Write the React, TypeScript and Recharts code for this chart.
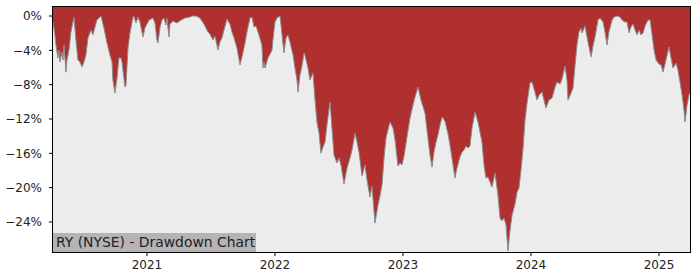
import { AreaChart, Area, XAxis, YAxis, CartesianGrid } from 'recharts';

// decimal years
const years = [
  2020.266, 2020.281, 2020.289, 2020.305, 2020.313, 2020.320, 2020.336, 2020.344, 2020.352, 2020.367,
  2020.375, 2020.391, 2020.406, 2020.430, 2020.445, 2020.461, 2020.477, 2020.492, 2020.508, 2020.523,
  2020.539, 2020.563, 2020.578, 2020.594, 2020.609, 2020.641, 2020.664, 2020.688, 2020.711, 2020.727,
  2020.734, 2020.750, 2020.766, 2020.781, 2020.797, 2020.805, 2020.828, 2020.836, 2020.852, 2020.867,
  2020.891, 2020.898, 2020.914, 2020.930, 2020.945, 2020.969, 2020.984, 2021.016, 2021.047, 2021.063,
  2021.078, 2021.086, 2021.102, 2021.117, 2021.133, 2021.148, 2021.156, 2021.172, 2021.180, 2021.203,
  2021.234, 2021.266, 2021.297, 2021.336, 2021.352, 2021.383, 2021.414, 2021.445, 2021.477, 2021.492,
  2021.516, 2021.531, 2021.555, 2021.570, 2021.586, 2021.602, 2021.625, 2021.648, 2021.664, 2021.680,
  2021.703, 2021.727, 2021.742, 2021.766, 2021.781, 2021.805, 2021.820, 2021.836, 2021.852, 2021.875,
  2021.898, 2021.906, 2021.914, 2021.922, 2021.945, 2021.977, 2021.984, 2022.000, 2022.016, 2022.039,
  2022.047, 2022.070, 2022.086, 2022.102, 2022.117, 2022.141, 2022.156, 2022.172, 2022.180, 2022.195,
  2022.211, 2022.227, 2022.234, 2022.258, 2022.273, 2022.297, 2022.313, 2022.328, 2022.344, 2022.359,
  2022.375, 2022.391, 2022.406, 2022.430, 2022.445, 2022.461, 2022.484, 2022.500, 2022.516, 2022.539,
  2022.563, 2022.586, 2022.602, 2022.625, 2022.641, 2022.656, 2022.680, 2022.703, 2022.719, 2022.742,
  2022.758, 2022.781, 2022.805, 2022.820, 2022.836, 2022.852, 2022.867, 2022.898, 2022.922, 2022.938,
  2022.961, 2022.977, 2022.992, 2023.008, 2023.031, 2023.055, 2023.078, 2023.094, 2023.117, 2023.141,
  2023.172, 2023.195, 2023.211, 2023.227, 2023.242, 2023.258, 2023.273, 2023.289, 2023.305, 2023.328,
  2023.352, 2023.367, 2023.391, 2023.406, 2023.422, 2023.445, 2023.461, 2023.477, 2023.492, 2023.508,
  2023.523, 2023.539, 2023.563, 2023.586, 2023.617, 2023.633, 2023.648, 2023.664, 2023.680, 2023.695,
  2023.719, 2023.742, 2023.758, 2023.773, 2023.789, 2023.805, 2023.820, 2023.836, 2023.852, 2023.875,
  2023.891, 2023.906, 2023.922, 2023.938, 2023.953, 2023.969, 2023.992, 2024.008, 2024.031, 2024.047,
  2024.063, 2024.086, 2024.117, 2024.141, 2024.164, 2024.188, 2024.203, 2024.227, 2024.242, 2024.266,
  2024.281, 2024.289, 2024.313, 2024.328, 2024.344, 2024.359, 2024.375, 2024.391, 2024.398, 2024.422,
  2024.445, 2024.469, 2024.484, 2024.500, 2024.523, 2024.539, 2024.563, 2024.578, 2024.594, 2024.609,
  2024.633, 2024.648, 2024.672, 2024.695, 2024.711, 2024.734, 2024.750, 2024.766, 2024.781, 2024.797,
  2024.813, 2024.828, 2024.844, 2024.859, 2024.875, 2024.891, 2024.914, 2024.930, 2024.945, 2024.961,
  2024.977, 2025.000, 2025.016, 2025.031, 2025.047, 2025.063, 2025.078, 2025.094, 2025.109, 2025.133,
  2025.148, 2025.164, 2025.180, 2025.195, 2025.203, 2025.219, 2025.234, 2025.242,
];

// drawdown from running peak, %
const drawdown = [
  -0.70, -2.21, -3.38, -4.90, -3.96, -5.36, -4.20, -5.13, -3.38, -6.53,
  -5.13, -3.96, -1.86, -0.12, -2.80, -5.13, -5.36, -5.94, -5.36, -4.55,
  -2.56, -1.63, -2.21, -1.28, -0.47, 0.00, -1.40, -3.15, -4.55, -5.36,
  -7.46, -8.97, -7.23, -4.90, -4.90, -5.36, -8.28, -8.04, -3.73, -1.98,
  -0.12, 0.00, -0.82, -0.12, -0.70, -2.45, -1.40, -0.47, -0.23, -0.82,
  -2.80, -3.15, -1.28, -0.47, -0.23, -1.05, -0.23, -2.45, -0.93, -0.58,
  -0.82, -0.47, -0.23, -0.12, 0.00, 0.00, -0.23, -0.93, -1.86, -2.10,
  -2.80, -2.33, -3.96, -3.03, -2.56, -1.63, -0.35, -0.93, -1.86, -2.56,
  -3.73, -5.71, -4.78, -3.15, -1.86, -0.23, -0.12, -1.28, -1.17, -2.21,
  -3.38, -6.06, -5.36, -6.06, -4.90, -3.96, -2.80, -0.70, -0.23, 0.00,
  -1.05, -4.31, -2.56, -2.21, -3.03, -4.55, -6.06, -7.46, -8.86, -6.88,
  -5.83, -4.31, -4.55, -6.06, -7.46, -6.64, -9.79, -12.35, -13.64, -15.97,
  -15.27, -14.69, -12.70, -10.02, -13.05, -16.20, -17.13, -16.55, -17.37, -19.58,
  -17.72, -16.55, -15.62, -13.64, -14.69, -15.85, -18.65, -17.37, -19.11, -21.10,
  -19.81, -24.13, -22.03, -20.98, -19.70, -16.55, -14.22, -12.35, -13.05, -14.45,
  -17.48, -17.13, -17.37, -16.32, -14.10, -11.89, -10.37, -9.44, -8.28, -9.79,
  -11.31, -14.22, -16.20, -17.60, -15.85, -14.69, -13.87, -12.70, -11.77, -12.24,
  -13.75, -15.03, -17.37, -18.88, -17.72, -16.43, -15.85, -15.62, -15.15, -15.38,
  -15.15, -13.05, -11.19, -12.35, -14.69, -17.37, -18.88, -18.76, -19.35, -19.93,
  -18.30, -20.86, -23.54, -23.89, -23.54, -24.36, -27.39, -24.94, -23.19, -21.91,
  -20.51, -20.05, -17.95, -15.38, -12.12, -10.14, -7.81, -7.69, -8.86, -9.79,
  -9.21, -8.86, -10.72, -9.79, -9.56, -8.28, -7.69, -7.93, -7.34, -5.83,
  -7.46, -9.79, -8.97, -8.39, -5.71, -3.38, -1.86, -1.40, -1.98, -1.17,
  -3.03, -4.78, -3.50, -2.45, -0.47, -0.23, -0.70, -1.86, -3.38, -1.86,
  -0.47, -0.12, 0.00, -0.12, -0.47, -0.70, -0.70, -1.98, -1.28, -0.93,
  -1.63, -2.21, -1.63, -2.21, -1.98, -1.17, -0.47, -0.47, -2.10, -3.96,
  -5.13, -5.59, -5.71, -6.53, -5.59, -4.55, -3.61, -4.90, -6.06, -5.48,
  -6.29, -7.69, -9.21, -10.96, -12.35, -10.37, -9.21, -8.97,
];

const yearTicks = [2021, 2022, 2023, 2024, 2025];
const pctTicks = [0, -4, -8, -12, -16, -20, -24];
const title = 'RY (NYSE) - Drawdown Chart';

const data = years.map((t, i) => ({ t, dd: drawdown[i] }));

const font = "'DejaVu Sans', sans-serif";
const tickStyle = { fill: '#222', fontSize: 12, fontFamily: font };

const fmtPct = (v: number) => (v < 0 ? '\u2212' + Math.abs(v) : String(v)) + '%';

export default function App() {
  return (
    <div style={{ position: 'fixed', left: 0, top: 0, width: 700, height: 280, background: '#fff' }}>
      <AreaChart width={700} height={280} data={data} margin={{ top: 7, right: 10, left: 0, bottom: 0 }}>
        <CartesianGrid horizontal={false} vertical={false} fill="#ececec" stroke="none" />
        <XAxis
          dataKey="t"
          type="number"
          domain={[2020.266, 2025.242]}
          allowDataOverflow
          ticks={yearTicks}
          tickFormatter={(v) => String(v)}
          height={28}
          tickSize={4}
          tickMargin={4}
          axisLine={false}
          tickLine={{ stroke: '#000' }}
          tick={tickStyle}
        />
        <YAxis
          type="number"
          domain={[-27.5, 1.05]}
          allowDataOverflow
          ticks={pctTicks}
          tickFormatter={fmtPct}
          width={53}
          tickSize={4}
          tickMargin={7}
          axisLine={false}
          tickLine={{ stroke: '#000' }}
          tick={tickStyle}
        />
        <Area
          type="linear"
          dataKey="dd"
          baseValue={1.05}
          fill="#b03030"
          fillOpacity={1}
          stroke="#8c8c8c"
          strokeWidth={1}
          isAnimationActive={false}
        />
      </AreaChart>
      <div
        style={{
          position: 'absolute', left: 52, top: 6, width: 639, height: 247,
          boxSizing: 'border-box', border: '1px solid #000', pointerEvents: 'none',
        }}
      />
      <div
        style={{
          position: 'absolute', left: 53, top: 233, width: 203, height: 19,
          background: '#b4b4b4', color: '#222', fontFamily: font, fontSize: 13.9,
          lineHeight: '19px', paddingLeft: 3, boxSizing: 'border-box', whiteSpace: 'nowrap',
        }}
      >
        {title}
      </div>
    </div>
  );
}
